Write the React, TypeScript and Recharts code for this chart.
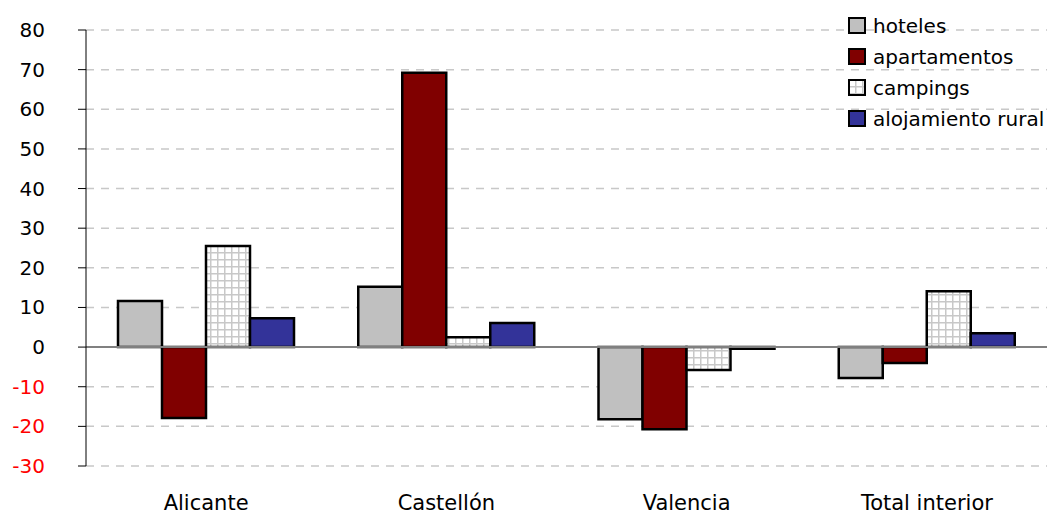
import React from "react";
import { BarChart, Bar, XAxis, YAxis, CartesianGrid, ReferenceLine } from "recharts";

const categories = ["Alicante", "Castellón", "Valencia", "Total interior"];
const hoteles = [11.6, 15.2, -18.2, -7.8];
const apartamentos = [-17.9, 69.2, -20.7, -4.0];
const campings = [25.5, 2.5, -5.8, 14.1];
const alojamientoRural = [7.3, 6.1, -0.4, 3.5];
const yTicks = [-30, -20, -10, 0, 10, 20, 30, 40, 50, 60, 70, 80];

const seriesNames = ["hoteles", "apartamentos", "campings", "alojamiento rural"];
const seriesKeys = ["hoteles", "apartamentos", "campings", "rural"];
const seriesFills = ["#C0C0C0", "#800000", "url(#gridPattern)", "#333399"];

const data = categories.map((c, i) => ({
  name: c,
  hoteles: hoteles[i],
  apartamentos: apartamentos[i],
  campings: campings[i],
  rural: alojamientoRural[i],
}));

const FONT = "DejaVu Sans, Verdana, sans-serif";

const YTick = (props: any) => {
  const { x, y, payload } = props;
  const v = payload.value;
  return (
    <text x={x} y={y} dy={7} textAnchor="end" fontSize={20} fontFamily={FONT} fill={v < 0 ? "#FF0000" : "#000000"}>
      {v}
    </text>
  );
};

const LegendBox = () => (
  <div style={{ position: "absolute", left: 848, top: 10, fontFamily: FONT, fontSize: 20, color: "#000" }}>
    {seriesNames.map((n, i) => (
      <div key={n} style={{ display: "flex", alignItems: "center", height: 31 }}>
        <svg width={20} height={18} style={{ marginRight: 5 }}>
          <rect x={1} y={1} width={16} height={15} fill={seriesFills[i]} stroke="#000" strokeWidth={2} />
        </svg>
        <span>{n}</span>
      </div>
    ))}
  </div>
);

export default function App() {
  return (
    <div style={{ position: "absolute", left: 0, top: 0, width: 1053, height: 514 }}>
      <BarChart
        width={1053}
        height={514}
        data={data}
        margin={{ top: 30, right: 6, bottom: 0, left: 0 }}
        barCategoryGap={32}
        barGap={0}
      >
        <defs>
          <pattern id="gridPattern" x={0} y={0} width={7} height={7} patternUnits="userSpaceOnUse">
            <rect x={0} y={0} width={7} height={7} fill="#FFFFFF" />
            <path d="M0 0.75 H7 M0.75 0 V7" stroke="#C8C8C8" strokeWidth={1.5} />
          </pattern>
        </defs>
        <CartesianGrid vertical={false} stroke="#C8C8C8" strokeWidth={1.5} strokeDasharray="8 7" />
        <XAxis
          dataKey="name"
          axisLine={false}
          tickLine={false}
          height={48}
          tick={{ fontSize: 21, fontFamily: FONT, fill: "#000" }}
          tickMargin={23}
        />
        <YAxis
          width={86}
          domain={[-30, 80]}
          ticks={yTicks}
          interval={0}
          allowDataOverflow
          axisLine={{ stroke: "#000", strokeWidth: 1 }}
          tickLine={{ stroke: "#000", strokeWidth: 1 }}
          tickSize={8}
          tickMargin={33}
          tick={<YTick />}
        />
        <ReferenceLine y={0} stroke="#808080" strokeWidth={2} />
        {seriesKeys.map((k, i) => (
          <Bar key={k} dataKey={k} name={seriesNames[i]} fill={seriesFills[i]} stroke="#000" strokeWidth={2.5} isAnimationActive={false} />
        ))}
      </BarChart>
      <LegendBox />
    </div>
  );
}
